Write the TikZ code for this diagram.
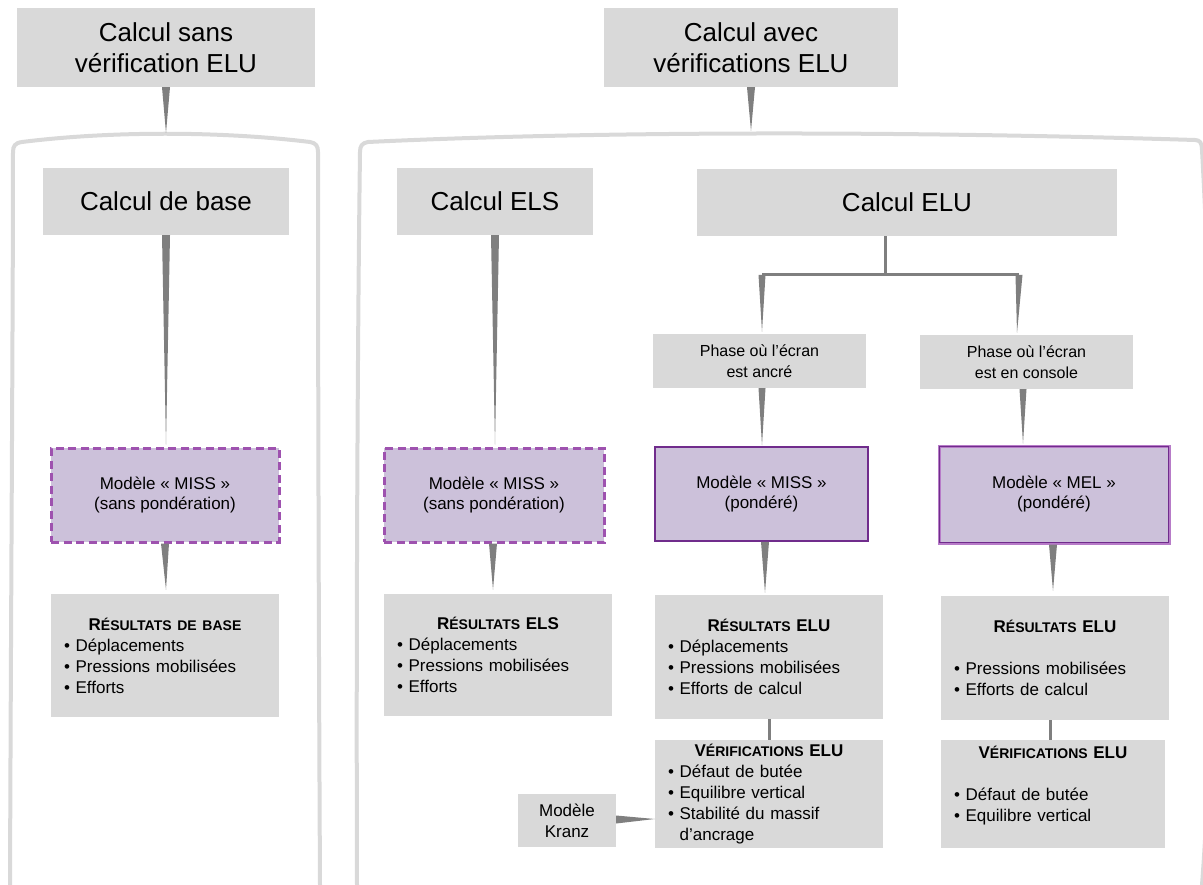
\documentclass[tikz,border=0pt]{standalone}
\usepackage{fontspec}
\setmainfont{Liberation Sans}
\usetikzlibrary{calc}
\definecolor{boxgray}{HTML}{D9D9D9}
\definecolor{wedgegray}{HTML}{7F7F7F}
\definecolor{lav}{HTML}{CCC1DA}
\definecolor{dashpurple}{HTML}{9E52AF}
\definecolor{darkpurple}{HTML}{702C8C}
\definecolor{lightpurple}{HTML}{B77BC8}
\newcommand\hdr[1]{\makebox[\linewidth][c]{\bfseries #1}}
\newcommand\smc[1]{{\fontsize{14}{21}\selectfont #1}}
\newcommand\wdg[3][4]{\fill[wedgegray] ($#2+(-#1,0)$) -- ($#2+(#1,0)$) -- #3 -- cycle;}
\begin{document}
\begin{tikzpicture}[x=1pt,y=-1pt,
  box/.style={fill=boxgray, inner sep=0pt, align=center, text=black},
  big/.style={box, font=\fontsize{26}{31}\selectfont},
  phase/.style={box, font=\fontsize{16}{21.5}\selectfont, minimum width=213pt, minimum height=54pt},
  model/.style={fill=lav, inner sep=0pt, align=center, font=\fontsize{17}{20}\selectfont},
  dashbox/.style={draw=dashpurple, line width=3pt, dash pattern=on 8pt off 4.5pt},
  res/.style={fill=boxgray, inner xsep=13pt, inner ysep=0pt, align=left, font=\fontsize{17}{21}\selectfont},
  conn/.style={draw=wedgegray, line width=3pt},
  bracket/.style={draw=boxgray, line width=4pt, line cap=round}
]
\useasboundingbox (0,0) rectangle (1203,885);

% containers
\draw[bracket] (10,885) .. controls (11,600) and (13,300) .. (13,152)
  .. controls (13,146) and (15,143) .. (22,142)
  .. controls (110,131) and (220,131) .. (310,142)
  .. controls (316,143) and (318,146) .. (318,152)
  .. controls (318,400) and (319,700) .. (320,885);
\draw[bracket] (357,885) .. controls (356,600) and (358,300) .. (360,152)
  .. controls (360,146) and (362,143) .. (368,142)
  .. controls (600,131) and (900,131) .. (1195,140)
  .. controls (1200,140) and (1202,143) .. (1202,150)
  .. controls (1216,400) and (1216,700) .. (1202,885);

% top boxes
\node[big, minimum width=298pt, minimum height=79pt] (top1) at (166,47.5) {Calcul sans\\vérification ELU};
\node[big, minimum width=294pt, minimum height=79pt] (top2) at (751,47.5) {Calcul avec\\vérifications ELU};
\coordinate (c1) at (166,133);
\coordinate (c2) at (751,131);

% level 2
\node[big, minimum width=246pt, minimum height=67pt] (base) at (166,201.5) {Calcul de base};
\node[big, minimum width=196pt, minimum height=67pt] (els) at (495,201.5) {Calcul ELS};
\node[big, minimum width=420pt, minimum height=67pt] (elu) at (907,202.5) {Calcul ELU};

% phases
\node[phase] (ph1) at (759.5,361) {Phase où l’écran\\est ancré};
\node[phase] (ph2) at (1026.5,362) {Phase où l’écran\\est en console};

% models
\node[model, dashbox, minimum width=228pt, minimum height=94pt] (miss1) at (165,495) {Modèle «~MISS~»\\(sans pondération)};
\node[model, dashbox, minimum width=220pt, minimum height=94pt] (miss2) at (494,495) {Modèle «~MISS~»\\(sans pondération)};
\node[model, draw=darkpurple, line width=1.5pt, minimum width=213pt, minimum height=94pt] (miss3) at (761.5,494) {Modèle «~MISS~»\\(pondéré)};
\node[model, draw=lightpurple, line width=3pt, minimum width=230pt, minimum height=97pt] (mel) at (1054,494.5) {Modèle «~MEL~»\\(pondéré)};
\draw[darkpurple, line width=1pt] ($(mel.south west)+(2,-2)$) rectangle ($(mel.north east)+(-2,2)$);

% results
\node[res, minimum width=228pt, text width=202pt, minimum height=123pt] (res1) at (165,655.5)
  {\hdr{R\smc{ÉSULTATS DE BASE}}\\ \textbullet\ Déplacements\\ \textbullet\ Pressions mobilisées\\ \textbullet\ Efforts};
\node[res, minimum width=228pt, text width=202pt, minimum height=122pt] (res2) at (498,655)
  {\hdr{R\smc{ÉSULTATS} ELS}\\ \textbullet\ Déplacements\\ \textbullet\ Pressions mobilisées\\ \textbullet\ Efforts};
\node[res, minimum width=228pt, text width=202pt, minimum height=124pt] (res3) at (769,657)
  {\hdr{R\smc{ÉSULTATS} ELU}\\ \textbullet\ Déplacements\\ \textbullet\ Pressions mobilisées\\ \textbullet\ Efforts de calcul};
\node[res, minimum width=228pt, text width=202pt, minimum height=124pt] (res4) at (1055,658)
  {\hdr{R\smc{ÉSULTATS} ELU}\\ \mbox{}\\ \textbullet\ Pressions mobilisées\\ \textbullet\ Efforts de calcul};
\node[res, minimum width=228pt, text width=202pt, minimum height=108pt] (ver1) at (769,794)
  {\hdr{V\smc{ÉRIFICATIONS} ELU}\\ \textbullet\ Défaut de butée\\ \textbullet\ Equilibre vertical\\ \textbullet\ Stabilité du massif\\ \phantom{\textbullet\ }d’ancrage};
\node[res, minimum width=224pt, text width=198pt, minimum height=108pt] (ver2) at (1053,794)
  {\hdr{V\smc{ÉRIFICATIONS} ELU}\\ \mbox{}\\ \textbullet\ Défaut de butée\\ \textbullet\ Equilibre vertical\\ \mbox{}};
\node[box, font=\fontsize{17}{20.7}\selectfont, minimum width=98pt, minimum height=53pt] (kranz) at (567,820.5) {Modèle\\Kranz};

% connectors
\wdg{(top1.south)}{(c1)}
\wdg{(top2.south)}{(c2)}
\wdg{(base.south)}{($(miss1.north)+(1,-2)$)}
\wdg{(els.south)}{($(miss2.north)+(1,-2)$)}
\coordinate (j0) at (885,275);
\coordinate (jl) at (762,275);
\coordinate (jr) at (1019,275);
\draw[conn] (elu.south -| j0) -- (j0);
\draw[conn] (jl) -- (jr);
\wdg[3.5]{(jl)}{($(jl |- ph1.north)+(0,-2)$)}
\wdg[3.5]{(jr)}{($(jr |- ph2.north)+(-2,-2)$)}
\wdg[3.5]{($(ph1.south)+(2.5,0)$)}{($(ph1.south |- miss3.north)+(2.5,-1)$)}
\wdg[3.5]{($(ph2.south)+(-3.5,0)$)}{($(ph2.south |- mel.north)+(-3.5,-1)$)}
\wdg{(miss1.south)}{($(miss1.south |- res1.north)+(1,-4)$)}
\wdg{($(miss2.south)+(-1,0)$)}{($(miss2.south |- res2.north)+(-1,-4)$)}
\wdg{($(miss3.south)+(3.5,0)$)}{($(miss3.south |- res3.north)+(3.5,-2)$)}
\wdg{($(mel.south)+(-1,0)$)}{($(mel.south |- res4.north)+(-1,-5)$)}
\draw[conn] (res3.south) -- (ver1.north);
\draw[conn] ($(res4.south)+(-5,0)$) -- ($(ver2.north)+(-3,0)$);
\fill[wedgegray] ($(kranz.east)+(0,-5)$) -- ($(kranz.east)+(0,3)$) -- ($(kranz.east -| ver1.west)+(0,-1.5)$) -- cycle;
\end{tikzpicture}
\end{document}
